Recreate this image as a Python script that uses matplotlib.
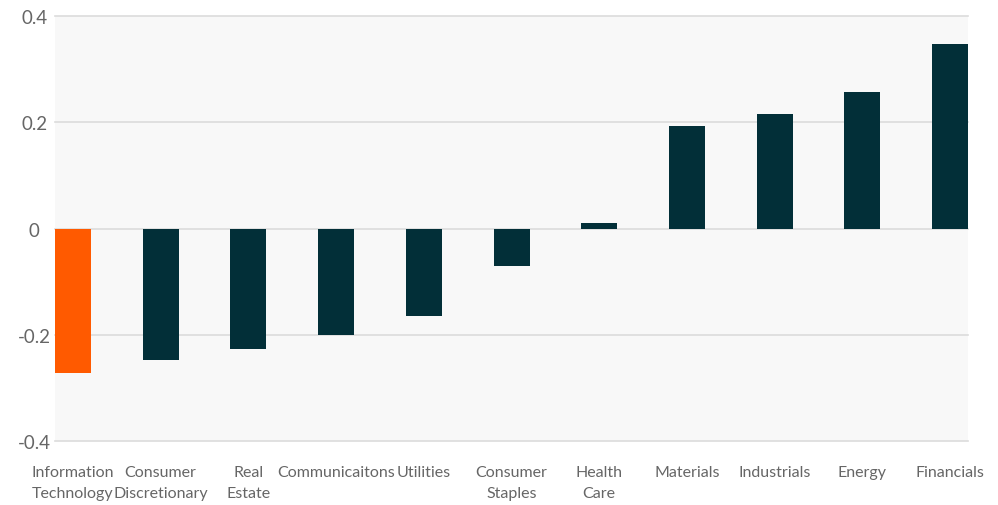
import numpy as np
import matplotlib.pyplot as plt

sectors = ["Information\nTechnology", "Consumer\nDiscretionary", "Real\nEstate", "Communicaitons",
           "Utilities", "Consumer\nStaples", "Health\nCare", "Materials", "Industrials",
           "Energy", "Financials"]
values = [-0.272, -0.248, -0.227, -0.200, -0.165, -0.071, 0.010, 0.193, 0.216, 0.257, 0.347]
highlight = "Information\nTechnology"

dark = "#022f38"
orange = "#ff5a00"
colors = [orange if s == highlight else dark for s in sectors]

plt.rcParams['font.family'] = ['Lato', 'DejaVu Sans']

fig = plt.figure(figsize=(9.98, 5.06), dpi=100)
ax = fig.add_axes([0.0551, 0.1265, 0.9149, 0.8395])
ax.set_facecolor("#f8f8f8")

x = np.arange(len(sectors))
width = 0.41
ax.bar(x, values, width=width, color=colors, zorder=3)

ax.set_xlim(-width / 2, len(sectors) - 1 + width / 2)
ax.set_ylim(-0.4, 0.4)
yticks = [-0.4, -0.2, 0, 0.2, 0.4]
ax.set_yticks(yticks)
ax.set_yticklabels(["-0.4", "-0.2", "0", "0.2", "0.4"])
ax.grid(True, axis='y', color="#dcdcdc", linewidth=1.2, zorder=0)
for gl in ax.get_ygridlines():
    gl.set_clip_on(False)

ax.set_xticks(x)
ax.set_xticklabels(sectors, fontsize=11.5, color="#666666", linespacing=1.65)
for lbl in ax.get_yticklabels():
    lbl.set_horizontalalignment('center')
ax.tick_params(axis='y', labelsize=13.5, labelcolor="#666666", length=0, pad=15)
ax.tick_params(axis='x', length=0, pad=17)

for s in ax.spines.values():
    s.set_visible(False)

fig.savefig("out.png", dpi=100)
